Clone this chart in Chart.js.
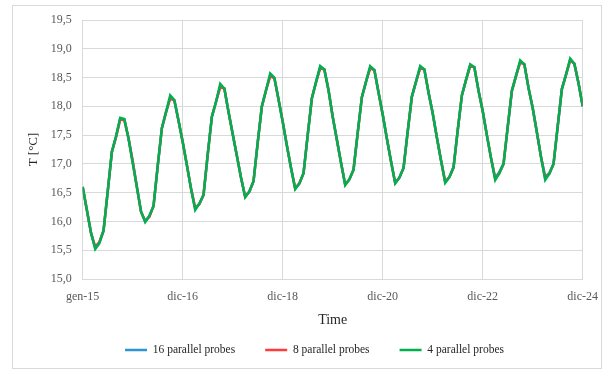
<!DOCTYPE html>
<html>
<head>
<meta charset="UTF-8">
<title>T [°C] - parallel probes</title>
<script src="https://cdn.jsdelivr.net/npm/chart.js@4"></script>
<style>
  * { margin: 0; padding: 0; box-sizing: border-box; }
  body { width: 614px; height: 371px; background: #fff; position: relative; overflow: hidden; }
  .frame { position: absolute; left: 12px; top: 5px; width: 590px; height: 364px; border: 1px solid #d9d9d9; }
  canvas { position: absolute; left: 0; top: 0; }
</style>
</head>
<body>
<div class="frame"></div>
<canvas id="chart" width="614" height="371"></canvas>
<script>
// x tick labels, one every 24 months (month index 0 = gen-15)
const xTickLabels = ["gen-15", "dic-16", "dic-18", "dic-20", "dic-22", "dic-24"];

// monthly mean temperature, 121 points (month 0 .. 120)
const probes16 = [
  16.60, 16.20, 15.80, 15.55, 15.64, 15.84, 16.52, 17.21, 17.48, 17.78, 17.77, 17.44,
  17.04, 16.60, 16.17, 16.00, 16.09, 16.27, 16.96, 17.62, 17.90, 18.15, 18.10, 17.75,
  17.38, 16.98, 16.57, 16.22, 16.31, 16.46, 17.16, 17.82, 18.08, 18.35, 18.31, 17.90,
  17.52, 17.14, 16.76, 16.43, 16.52, 16.70, 17.37, 18.00, 18.28, 18.54, 18.49, 18.12,
  17.73, 17.32, 16.93, 16.57, 16.66, 16.84, 17.50, 18.14, 18.42, 18.68, 18.64, 18.28,
  17.82, 17.42, 17.02, 16.64, 16.73, 16.90, 17.54, 18.16, 18.43, 18.68, 18.63, 18.24,
  17.86, 17.44, 17.04, 16.67, 16.76, 16.93, 17.56, 18.17, 18.43, 18.68, 18.64, 18.24,
  17.88, 17.46, 17.06, 16.69, 16.77, 16.94, 17.58, 18.19, 18.46, 18.71, 18.68, 18.27,
  17.92, 17.50, 17.10, 16.76, 16.86, 17.00, 17.64, 18.27, 18.53, 18.78, 18.73, 18.32,
  17.97, 17.55, 17.12, 16.78, 16.84, 17.00, 17.65, 18.30, 18.55, 18.81, 18.74, 18.40,
  18.00
];
const probes8 = [
  16.60, 16.20, 15.80, 15.56, 15.64, 15.84, 16.52, 17.21, 17.46, 17.77, 17.76, 17.44,
  17.05, 16.60, 16.17, 16.01, 16.08, 16.27, 16.96, 17.62, 17.90, 18.14, 18.10, 17.75,
  17.38, 16.98, 16.57, 16.24, 16.30, 16.46, 17.16, 17.82, 18.08, 18.33, 18.31, 17.90,
  17.52, 17.14, 16.76, 16.43, 16.52, 16.70, 17.37, 18.00, 18.28, 18.52, 18.49, 18.12,
  17.74, 17.32, 16.93, 16.58, 16.66, 16.84, 17.50, 18.14, 18.42, 18.66, 18.64, 18.28,
  17.82, 17.42, 17.02, 16.64, 16.73, 16.90, 17.54, 18.16, 18.43, 18.66, 18.63, 18.24,
  17.86, 17.44, 17.04, 16.67, 16.76, 16.93, 17.56, 18.17, 18.43, 18.66, 18.64, 18.24,
  17.88, 17.46, 17.06, 16.69, 16.77, 16.94, 17.58, 18.19, 18.46, 18.70, 18.68, 18.27,
  17.92, 17.50, 17.10, 16.74, 16.84, 17.00, 17.64, 18.27, 18.53, 18.76, 18.73, 18.32,
  17.97, 17.55, 17.12, 16.75, 16.83, 17.00, 17.65, 18.30, 18.55, 18.80, 18.74, 18.40,
  18.00
];
const probes4 = [
  16.60, 16.20, 15.80, 15.52, 15.62, 15.84, 16.52, 17.21, 17.48, 17.80, 17.78, 17.44,
  17.01, 16.60, 16.17, 15.99, 16.10, 16.27, 16.96, 17.62, 17.90, 18.19, 18.11, 17.75,
  17.38, 16.98, 16.57, 16.20, 16.31, 16.46, 17.16, 17.82, 18.08, 18.39, 18.31, 17.90,
  17.52, 17.14, 16.76, 16.42, 16.52, 16.70, 17.37, 18.00, 18.28, 18.57, 18.50, 18.12,
  17.73, 17.32, 16.93, 16.56, 16.66, 16.84, 17.50, 18.14, 18.42, 18.70, 18.64, 18.28,
  17.82, 17.42, 17.02, 16.63, 16.73, 16.90, 17.54, 18.16, 18.43, 18.70, 18.63, 18.24,
  17.86, 17.44, 17.04, 16.66, 16.76, 16.93, 17.56, 18.17, 18.43, 18.70, 18.64, 18.24,
  17.88, 17.46, 17.06, 16.67, 16.77, 16.94, 17.58, 18.19, 18.46, 18.73, 18.68, 18.27,
  17.92, 17.50, 17.10, 16.72, 16.84, 17.00, 17.64, 18.27, 18.53, 18.80, 18.73, 18.32,
  17.97, 17.55, 17.12, 16.72, 16.83, 17.00, 17.65, 18.30, 18.55, 18.83, 18.74, 18.40,
  18.00
];

const SERIF = "'Liberation Serif', 'Times New Roman', serif";
const GRID = "#d9d9d9";

const toPoints = (arr) => arr.map((v, i) => ({ x: i, y: v }));

new Chart(document.getElementById("chart"), {
  type: "line",
  data: {
    datasets: [
      { label: "16 parallel probes", data: toPoints(probes16), borderColor: "#2e95d3", backgroundColor: "#2e95d3", borderWidth: 2.5, order: 2 },
      { label: "8 parallel probes", data: toPoints(probes8), borderColor: "#ff3b3b", backgroundColor: "#ff3b3b", borderWidth: 2.5, order: 1 },
      { label: "4 parallel probes", data: toPoints(probes4), borderColor: "#00b050", backgroundColor: "#00b050", borderWidth: 2.5, order: 0 }
    ]
  },
  options: {
    responsive: false,
    animation: false,
    events: [],
    elements: { point: { radius: 0 }, line: { tension: 0 } },
    layout: { padding: { left: 46.3, right: 31.3, top: 20, bottom: 5.25 } },
    plugins: {
      tooltip: { enabled: false },
      legend: {
        position: "bottom",
        labels: {
          usePointStyle: true,
          pointStyle: "line",
          pointStyleWidth: 22,
          padding: 30,
          color: "#262626",
          font: { family: SERIF, size: 11.5 },
          sort: (a, b) => a.datasetIndex - b.datasetIndex
        }
      }
    },
    scales: {
      x: {
        type: "linear",
        min: 0,
        max: 120,
        ticks: {
          stepSize: 24,
          autoSkip: false,
          maxRotation: 0,
          padding: 11,
          color: "#595959",
          font: { family: SERIF, size: 12 },
          callback: (v) => xTickLabels[v / 24] ?? ""
        },
        grid: { color: GRID, drawTicks: false },
        border: { color: GRID },
        title: {
          display: true,
          text: "Time",
          color: "#262626",
          font: { family: SERIF, size: 14 },
          padding: { top: 0, bottom: -14.85 }
        },
        afterFit: (s) => { s.height = 35.25; }
      },
      y: {
        min: 15,
        max: 19.5,
        ticks: {
          stepSize: 0.5,
          padding: 11,
          color: "#595959",
          font: { family: SERIF, size: 12 },
          callback: (v) => v.toFixed(1).replace(".", ",")
        },
        grid: { color: GRID, drawTicks: false },
        border: { color: GRID },
        title: {
          display: true,
          text: "T [°C]",
          color: "#262626",
          font: { family: SERIF, size: 13 },
          padding: { top: -21, bottom: 0 }
        },
        afterFit: (s) => { s.width = 36.4; }
      }
    }
  }
});
</script>
</body>
</html>
